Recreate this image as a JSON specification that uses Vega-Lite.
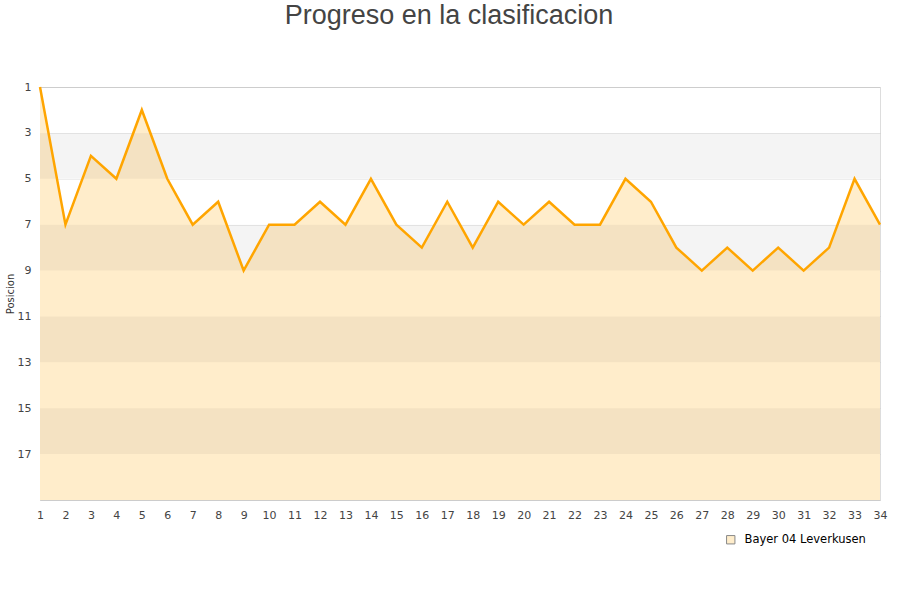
{
  "$schema": "https://vega.github.io/schema/vega-lite/v6.json",
  "autosize": {"type": "none"},
  "width": 840,
  "height": 413,
  "padding": {"left": 40, "top": 87, "right": 20, "bottom": 100},
  "background": "white",
  "title": {
    "text": "Progreso en la clasificacion",
    "font": "Liberation Sans",
    "fontSize": 27,
    "fontWeight": "normal",
    "color": "#444444",
    "anchor": "middle",
    "frame": "group",
    "baseline": "alphabetic",
    "offset": 30,
    "dx": -11
  },
  "config": {
    "view": {"stroke": "#dddddd", "strokeWidth": 1},
    "font": "DejaVu Sans",
    "axis": {
      "labelFont": "DejaVu Sans",
      "labelFontSize": 11,
      "labelColor": "#444444",
      "labelOverlap": false,
      "ticks": false,
      "domainColor": "#cccccc",
      "gridColor": "#000000",
      "gridOpacity": 0.07
    }
  },
  "datasets": {
    "pos": [
      {"jornada": 1, "posicion": 1, "equipo": "Bayer 04 Leverkusen"},
      {"jornada": 2, "posicion": 7, "equipo": "Bayer 04 Leverkusen"},
      {"jornada": 3, "posicion": 4, "equipo": "Bayer 04 Leverkusen"},
      {"jornada": 4, "posicion": 5, "equipo": "Bayer 04 Leverkusen"},
      {"jornada": 5, "posicion": 2, "equipo": "Bayer 04 Leverkusen"},
      {"jornada": 6, "posicion": 5, "equipo": "Bayer 04 Leverkusen"},
      {"jornada": 7, "posicion": 7, "equipo": "Bayer 04 Leverkusen"},
      {"jornada": 8, "posicion": 6, "equipo": "Bayer 04 Leverkusen"},
      {"jornada": 9, "posicion": 9, "equipo": "Bayer 04 Leverkusen"},
      {"jornada": 10, "posicion": 7, "equipo": "Bayer 04 Leverkusen"},
      {"jornada": 11, "posicion": 7, "equipo": "Bayer 04 Leverkusen"},
      {"jornada": 12, "posicion": 6, "equipo": "Bayer 04 Leverkusen"},
      {"jornada": 13, "posicion": 7, "equipo": "Bayer 04 Leverkusen"},
      {"jornada": 14, "posicion": 5, "equipo": "Bayer 04 Leverkusen"},
      {"jornada": 15, "posicion": 7, "equipo": "Bayer 04 Leverkusen"},
      {"jornada": 16, "posicion": 8, "equipo": "Bayer 04 Leverkusen"},
      {"jornada": 17, "posicion": 6, "equipo": "Bayer 04 Leverkusen"},
      {"jornada": 18, "posicion": 8, "equipo": "Bayer 04 Leverkusen"},
      {"jornada": 19, "posicion": 6, "equipo": "Bayer 04 Leverkusen"},
      {"jornada": 20, "posicion": 7, "equipo": "Bayer 04 Leverkusen"},
      {"jornada": 21, "posicion": 6, "equipo": "Bayer 04 Leverkusen"},
      {"jornada": 22, "posicion": 7, "equipo": "Bayer 04 Leverkusen"},
      {"jornada": 23, "posicion": 7, "equipo": "Bayer 04 Leverkusen"},
      {"jornada": 24, "posicion": 5, "equipo": "Bayer 04 Leverkusen"},
      {"jornada": 25, "posicion": 6, "equipo": "Bayer 04 Leverkusen"},
      {"jornada": 26, "posicion": 8, "equipo": "Bayer 04 Leverkusen"},
      {"jornada": 27, "posicion": 9, "equipo": "Bayer 04 Leverkusen"},
      {"jornada": 28, "posicion": 8, "equipo": "Bayer 04 Leverkusen"},
      {"jornada": 29, "posicion": 9, "equipo": "Bayer 04 Leverkusen"},
      {"jornada": 30, "posicion": 8, "equipo": "Bayer 04 Leverkusen"},
      {"jornada": 31, "posicion": 9, "equipo": "Bayer 04 Leverkusen"},
      {"jornada": 32, "posicion": 8, "equipo": "Bayer 04 Leverkusen"},
      {"jornada": 33, "posicion": 5, "equipo": "Bayer 04 Leverkusen"},
      {"jornada": 34, "posicion": 7, "equipo": "Bayer 04 Leverkusen"}
    ],
    "bands": [
      {"desde": 3, "hasta": 5},
      {"desde": 7, "hasta": 9},
      {"desde": 11, "hasta": 13},
      {"desde": 15, "hasta": 17}
    ]
  },
  "layer": [
    {
      "data": {"name": "pos"},
      "mark": {"type": "area", "opacity": 1},
      "encoding": {
        "x": {
          "field": "jornada", "type": "ordinal",
          "scale": {"type": "point", "padding": 0},
          "axis": {"grid": false, "title": null, "labelAngle": 0, "labelOverlap": false, "labelPadding": 9, "domain": true}
        },
        "y": {
          "field": "posicion", "type": "quantitative",
          "scale": {"domain": [1, 19], "reverse": true, "nice": false, "zero": false},
          "axis": {"values": [1,3,5,7,9,11,13,15,17], "grid": true, "title": "Posicion", "titleFont": "DejaVu Sans", "titleFontSize": 10, "titleFontWeight": "normal", "titleColor": "#333333", "titlePadding": 2, "labelPadding": 9, "labelFlush": false, "labelOverlap": false}
        },
        "y2": {"datum": 19},
        "color": {
          "field": "equipo", "type": "nominal",
          "scale": {"range": ["#FFEDCB"]},
          "legend": {
            "title": null,
            "orient": "none",
            "legendX": 685,
            "legendY": 447,
            "symbolType": "square",
            "symbolSize": 70,
            "symbolStrokeColor": "#888888",
            "symbolStrokeWidth": 1,
            "labelFont": "DejaVu Sans",
            "labelFontSize": 11.5,
            "labelColor": "#000000",
            "labelOffset": 8,
            "labelLimit": 300
          }
        }
      }
    },
    {
      "data": {"name": "bands"},
      "mark": {"type": "rect", "color": "#000000", "opacity": 0.045},
      "encoding": {
        "x": {"value": 0},
        "x2": {"value": 840},
        "y": {"field": "desde", "type": "quantitative"},
        "y2": {"field": "hasta"}
      }
    },
    {
      "data": {"name": "pos"},
      "mark": {"type": "line", "color": "#FFA500", "strokeWidth": 2.5},
      "encoding": {
        "x": {"field": "jornada", "type": "ordinal"},
        "y": {"field": "posicion", "type": "quantitative"}
      }
    }
  ]
}
